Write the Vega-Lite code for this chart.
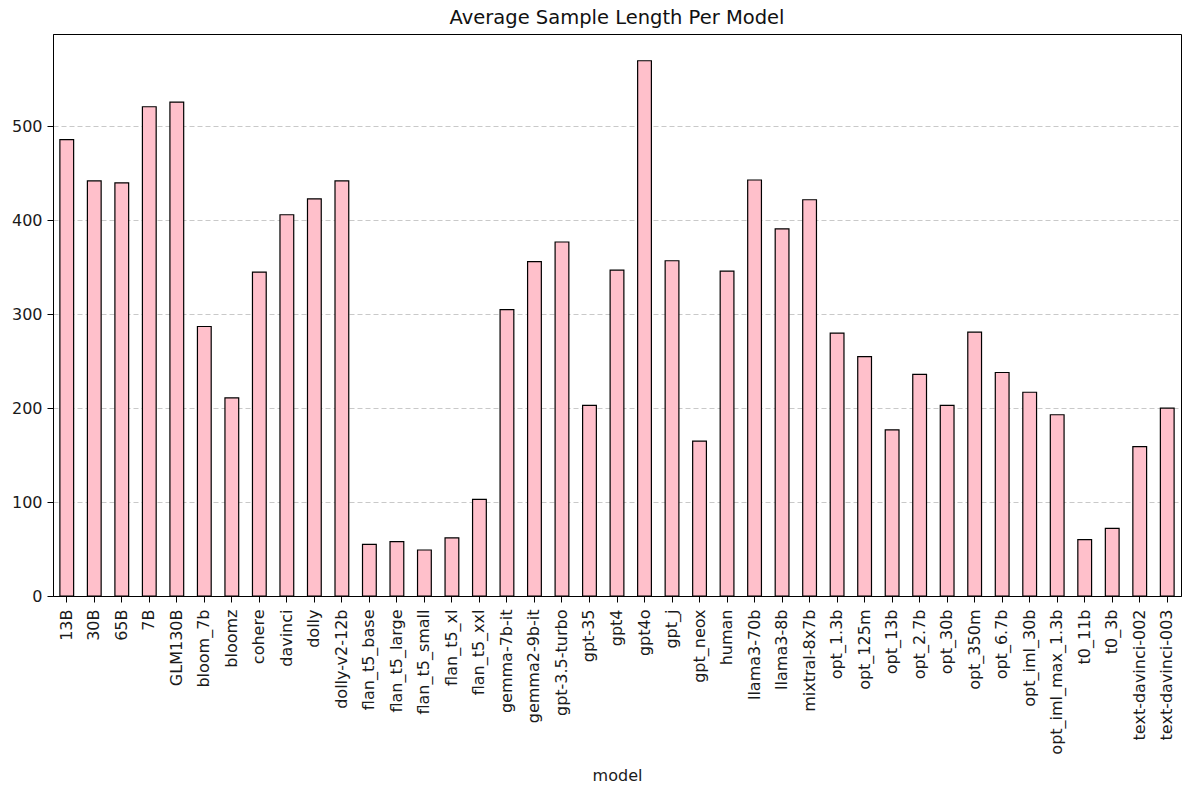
{
  "$schema": "https://vega.github.io/schema/vega-lite/v6.json",
  "autosize": {"type": "none"},
  "padding": {"left": 53, "top": 34, "right": 1, "bottom": 191},
  "width": 1128,
  "height": 562,
  "background": "white",
  "config": {
    "font": "DejaVu Sans",
    "view": {"stroke": "black", "strokeWidth": 1},
    "axis": {
      "labelFont": "DejaVu Sans",
      "titleFont": "DejaVu Sans",
      "labelFontSize": 16,
      "titleFontSize": 16,
      "labelColor": "#1a1a1a",
      "titleColor": "#1a1a1a",
      "titleFontWeight": "normal",
      "domainColor": "black",
      "tickColor": "black",
      "tickSize": 6
    }
  },
  "title": {
    "text": "Average Sample Length Per Model",
    "fontSize": 19.5,
    "fontWeight": "normal",
    "font": "DejaVu Sans",
    "color": "#111",
    "anchor": "middle",
    "offset": 6
  },
  "data": {
    "values": [
      {"model": "13B", "avg_length": 486},
      {"model": "30B", "avg_length": 442},
      {"model": "65B", "avg_length": 440},
      {"model": "7B", "avg_length": 521},
      {"model": "GLM130B", "avg_length": 526},
      {"model": "bloom_7b", "avg_length": 287},
      {"model": "bloomz", "avg_length": 211},
      {"model": "cohere", "avg_length": 345},
      {"model": "davinci", "avg_length": 406},
      {"model": "dolly", "avg_length": 423},
      {"model": "dolly-v2-12b", "avg_length": 442},
      {"model": "flan_t5_base", "avg_length": 55},
      {"model": "flan_t5_large", "avg_length": 58},
      {"model": "flan_t5_small", "avg_length": 49},
      {"model": "flan_t5_xl", "avg_length": 62},
      {"model": "flan_t5_xxl", "avg_length": 103},
      {"model": "gemma-7b-it", "avg_length": 305},
      {"model": "gemma2-9b-it", "avg_length": 356},
      {"model": "gpt-3.5-turbo", "avg_length": 377},
      {"model": "gpt-35", "avg_length": 203},
      {"model": "gpt4", "avg_length": 347},
      {"model": "gpt4o", "avg_length": 570},
      {"model": "gpt_j", "avg_length": 357},
      {"model": "gpt_neox", "avg_length": 165},
      {"model": "human", "avg_length": 346},
      {"model": "llama3-70b", "avg_length": 443},
      {"model": "llama3-8b", "avg_length": 391},
      {"model": "mixtral-8x7b", "avg_length": 422},
      {"model": "opt_1.3b", "avg_length": 280},
      {"model": "opt_125m", "avg_length": 255},
      {"model": "opt_13b", "avg_length": 177},
      {"model": "opt_2.7b", "avg_length": 236},
      {"model": "opt_30b", "avg_length": 203},
      {"model": "opt_350m", "avg_length": 281},
      {"model": "opt_6.7b", "avg_length": 238},
      {"model": "opt_iml_30b", "avg_length": 217},
      {"model": "opt_iml_max_1.3b", "avg_length": 193},
      {"model": "t0_11b", "avg_length": 60},
      {"model": "t0_3b", "avg_length": 72},
      {"model": "text-davinci-002", "avg_length": 159},
      {"model": "text-davinci-003", "avg_length": 200}
    ]
  },
  "mark": {"type": "bar", "fill": "#FFC0CB", "stroke": "black", "strokeWidth": 1.2},
  "encoding": {
    "x": {
      "field": "model",
      "type": "nominal",
      "sort": null,
      "title": "model",
      "scale": {"paddingInner": 0.5, "paddingOuter": 0.25},
      "axis": {"labelAngle": -90, "labelPadding": 7, "titlePadding": 13, "grid": false}
    },
    "y": {
      "field": "avg_length",
      "type": "quantitative",
      "title": null,
      "scale": {"domain": [0, 598.5], "nice": false, "zero": true},
      "axis": {
        "values": [0, 100, 200, 300, 400, 500],
        "grid": true,
        "gridColor": "#bbbbbb",
        "gridDash": [5, 3],
        "gridOpacity": 0.8,
        "labelPadding": 5
      }
    }
  }
}
